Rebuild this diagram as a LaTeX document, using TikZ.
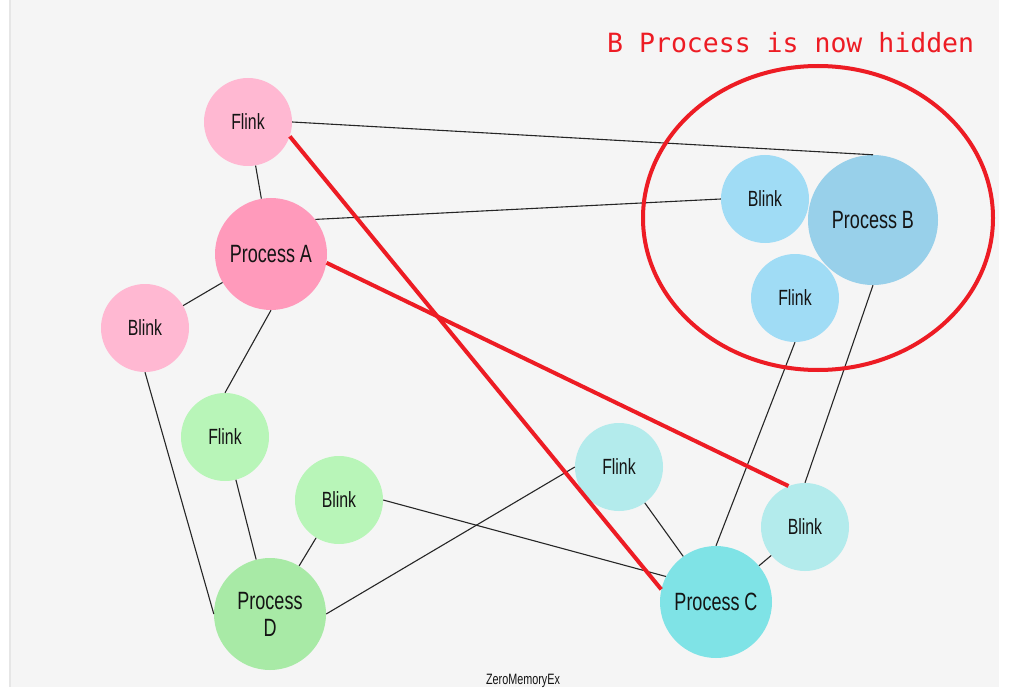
\documentclass[tikz,border=0pt]{standalone}
\usepackage{fontspec}
\newfontfamily\labfont[FakeStretch=0.72]{Liberation Sans}
\newfontfamily\notefont{DejaVu Sans Mono}
\definecolor{pinkL}{HTML}{FFB8D2}
\definecolor{pinkD}{HTML}{FF9ABB}
\definecolor{greenL}{HTML}{B8F5B8}
\definecolor{greenD}{HTML}{A8EAA6}
\definecolor{cyanL}{HTML}{B3EBEC}
\definecolor{cyanD}{HTML}{7FE3E6}
\definecolor{blueL}{HTML}{A0DCF5}
\definecolor{blueD}{HTML}{98D0EA}
\definecolor{hidered}{HTML}{ED1C24}
\definecolor{bg}{HTML}{F5F5F5}
\definecolor{edgebg}{HTML}{E6E6E6}
\tikzset{
  ptr/.style={circle, inner sep=0pt, minimum size=88pt, text=black!92,
    font=\labfont\fontsize{22}{24}\selectfont},
  proc/.style={circle, inner sep=0pt, minimum size=112pt, text=black!92, align=center,
    font=\labfont\fontsize{25}{27}\selectfont},
  link/.style={draw=black!85, line width=1.1pt},
  hide/.style={draw=hidered, line width=4pt},
}
\begin{document}
\begin{tikzpicture}[x=1pt,y=-1pt]
\useasboundingbox (0,0) rectangle (1021,690);
\fill[white] (0,0) rectangle (1021,690);
\fill[bg] (10,0) rectangle (999,687);
\draw[edgebg, line width=1.5pt] (10,0) -- (10,687);

% nodes
\node[ptr, fill=pinkL] (fa) at (248,122) {Flink};
\node[proc, fill=pinkD] (pa) at (271,254) {Process A};
\node[ptr, fill=pinkL] (ba) at (145,328) {Blink};
\node[ptr, fill=greenL] (fd) at (225,437) {Flink};
\node[ptr, fill=greenL] (bd) at (339,500) {Blink};
\node[proc, fill=greenD] (pd) at (270,614) {Process\\D};
\node[ptr, fill=cyanL] (fc) at (619,467) {Flink};
\node[ptr, fill=cyanL] (bc) at (805,527) {Blink};
\node[proc, fill=cyanD] (pc) at (716,602) {Process C};
\node[ptr, fill=blueL] (bb) at (765,199) {Blink};
\node[proc, fill=blueD, minimum size=130pt] (pb) at (873,220) {Process B};
\node[ptr, fill=blueL] (fb) at (795,298) {Flink};

% black links
\draw[link] (fa) -- (pa);
\draw[link] (fa.east) -- (pb.north);
\draw[link] (pa.38) -- (bb.west);
\draw[link] (pa) -- (ba);
\draw[link] (pa.south) -- (fd.north);
\draw[link] (ba.south) -- (pd.west);
\draw[link] (fd) -- (pd);
\draw[link] (bd) -- (pd);
\draw[link] (pd.east) -- (fc.west);
\draw[link] (bd.east) -- (pc.153);
\draw[link] (fc) -- (pc);
\draw[link] (pc.north) -- (fb.south);
\draw[link] (pc) -- (bc);
\draw[link] (bc.north) -- (pb.south);

% red marks
\draw[hide] (fa.-19) -- (pc.167);
\draw[hide] (pa.-9) -- (bc.112);
\draw[hide] (818,218) ellipse [x radius=175, y radius=152];
\node[anchor=base west, text=hidered, inner sep=0pt,
  font=\notefont\fontsize{26.5}{28}\selectfont] (note) at (607,53) {B Process is now hidden};

\node[anchor=base, inner sep=0pt, text=black!92,
  font=\labfont\fontsize{15}{16}\selectfont] (credit) at (523,684) {ZeroMemoryEx};
\end{tikzpicture}
\end{document}
